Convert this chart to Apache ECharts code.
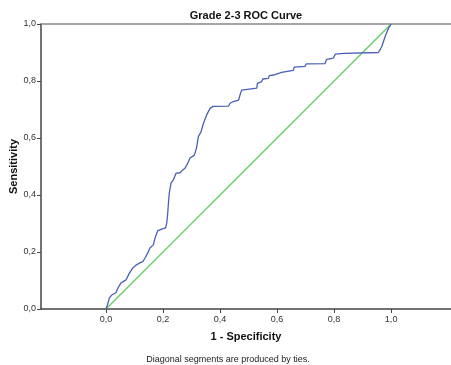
<!DOCTYPE html>
<html>
<head>
<meta charset="utf-8">
<script src="https://cdn.jsdelivr.net/npm/echarts@6/dist/echarts.min.js"></script>
<style>
  html, body { margin: 0; padding: 0; background: #fff; }
  #chart { width: 451px; height: 365px; }
</style>
</head>
<body>
<div id="chart"></div>
<script>
// ROC curve vertices (1 - specificity, sensitivity)
const rocX = [0, 0.005, 0.012, 0.020, 0.025, 0.035, 0.040, 0.052, 0.060, 0.070, 0.082, 0.094, 0.105, 0.117, 0.129,
  0.137, 0.146, 0.154, 0.166, 0.172, 0.181, 0.195, 0.209, 0.213, 0.216, 0.219, 0.222, 0.228, 0.236, 0.246,
  0.260, 0.269, 0.277, 0.287, 0.295, 0.310, 0.318, 0.324, 0.333, 0.341, 0.353, 0.359, 0.365, 0.376, 0.430,
  0.435, 0.447, 0.465, 0.470, 0.476, 0.480, 0.529, 0.531, 0.546, 0.550, 0.569, 0.573, 0.587, 0.589, 0.616,
  0.620, 0.657, 0.660, 0.698, 0.702, 0.768, 0.774, 0.797, 0.804, 0.835, 0.839, 0.955, 0.961, 0.967, 0.979,
  0.991, 1.0];
const rocY = [0, 0.014, 0.039, 0.049, 0.056, 0.057, 0.070, 0.091, 0.096, 0.102, 0.126, 0.144, 0.154, 0.161, 0.166,
  0.179, 0.196, 0.214, 0.225, 0.249, 0.274, 0.280, 0.285, 0.302, 0.330, 0.372, 0.407, 0.442, 0.453, 0.477,
  0.478, 0.488, 0.494, 0.512, 0.530, 0.540, 0.568, 0.605, 0.621, 0.649, 0.681, 0.688, 0.704, 0.711, 0.712,
  0.722, 0.728, 0.733, 0.751, 0.768, 0.775, 0.775, 0.792, 0.798, 0.807, 0.809, 0.819, 0.821, 0.828, 0.830,
  0.835, 0.837, 0.849, 0.851, 0.860, 0.861, 0.876, 0.880, 0.894, 0.897, 0.900, 0.900, 0.909, 0.920, 0.956,
  0.985, 1.0];
// reference diagonal
const refX = [0, 1];
const refY = [0, 1];
const xTicks = [0, 0.2, 0.4, 0.6, 0.8, 1.0];

const fmt = v => v.toFixed(1).replace('.', ',');
const font = 'Liberation Sans, Arial, sans-serif';

const chart = echarts.init(document.getElementById('chart'));
chart.setOption({
  animation: false,
  backgroundColor: '#fff',
  title: [
    {
      text: 'Grade 2-3 ROC Curve',
      left: 246, top: 10, padding: 0, textAlign: 'center',
      textStyle: { fontFamily: font, fontSize: 11, fontWeight: 'bold', color: '#111' }
    },
    {
      text: 'Diagonal segments are produced by ties.',
      left: 228, top: 355, padding: 0, textAlign: 'center',
      textStyle: { fontFamily: font, fontSize: 9, fontWeight: 'normal', color: '#222' }
    }
  ],
  grid: { left: 41, top: 24, right: 0, bottom: 56, containLabel: false, outerBoundsMode: 'none' },
  xAxis: [
    {
      type: 'value',
      min: -0.228, max: 1.21,
      name: '1 - Specificity',
      nameLocation: 'middle',
      nameGap: 22,
      nameMoveOverlap: false,
      nameTextStyle: { fontFamily: font, fontSize: 11, fontWeight: 'bold', color: '#111' },
      splitLine: { show: false },
      axisLine: { onZero: false, lineStyle: { color: '#444', width: 1.5 } },
      axisTick: { customValues: xTicks, length: 4, lineStyle: { color: '#444' } },
      axisLabel: {
        customValues: xTicks, margin: 6,
        formatter: fmt,
        fontFamily: font, fontSize: 9, color: '#333'
      }
    },
    {
      type: 'value',
      position: 'top',
      min: -0.228, max: 1.21,
      splitLine: { show: false },
      axisLine: { show: true, onZero: false, lineStyle: { color: '#888', width: 1.5 } },
      axisTick: { show: false },
      axisLabel: { show: false }
    }
  ],
  yAxis: {
    type: 'value',
    min: 0, max: 1, interval: 0.2,
    name: 'Sensitivity',
    nameLocation: 'middle',
    nameGap: 22,
    nameMoveOverlap: false,
    nameRotate: 90,
    nameTextStyle: { fontFamily: font, fontSize: 11, fontWeight: 'bold', color: '#111' },
    splitLine: { show: false },
    axisLine: { show: true, onZero: false, lineStyle: { color: '#444', width: 1.5 } },
    axisTick: { show: true, length: 4, lineStyle: { color: '#444' } },
    axisLabel: { margin: 5, formatter: fmt, fontFamily: font, fontSize: 9, color: '#333' }
  },
  series: [
    {
      type: 'line',
      data: refX.map((x, i) => [x, refY[i]]),
      showSymbol: false,
      smooth: false,
      lineStyle: { color: '#5ccc5c', width: 1.2 },
      z: 2
    },
    {
      type: 'line',
      data: rocX.map((x, i) => [x, rocY[i]]),
      showSymbol: false,
      smooth: false,
      lineStyle: { color: '#4a5fb5', width: 1.3 },
      z: 3
    }
  ]
});
</script>
</body>
</html>
